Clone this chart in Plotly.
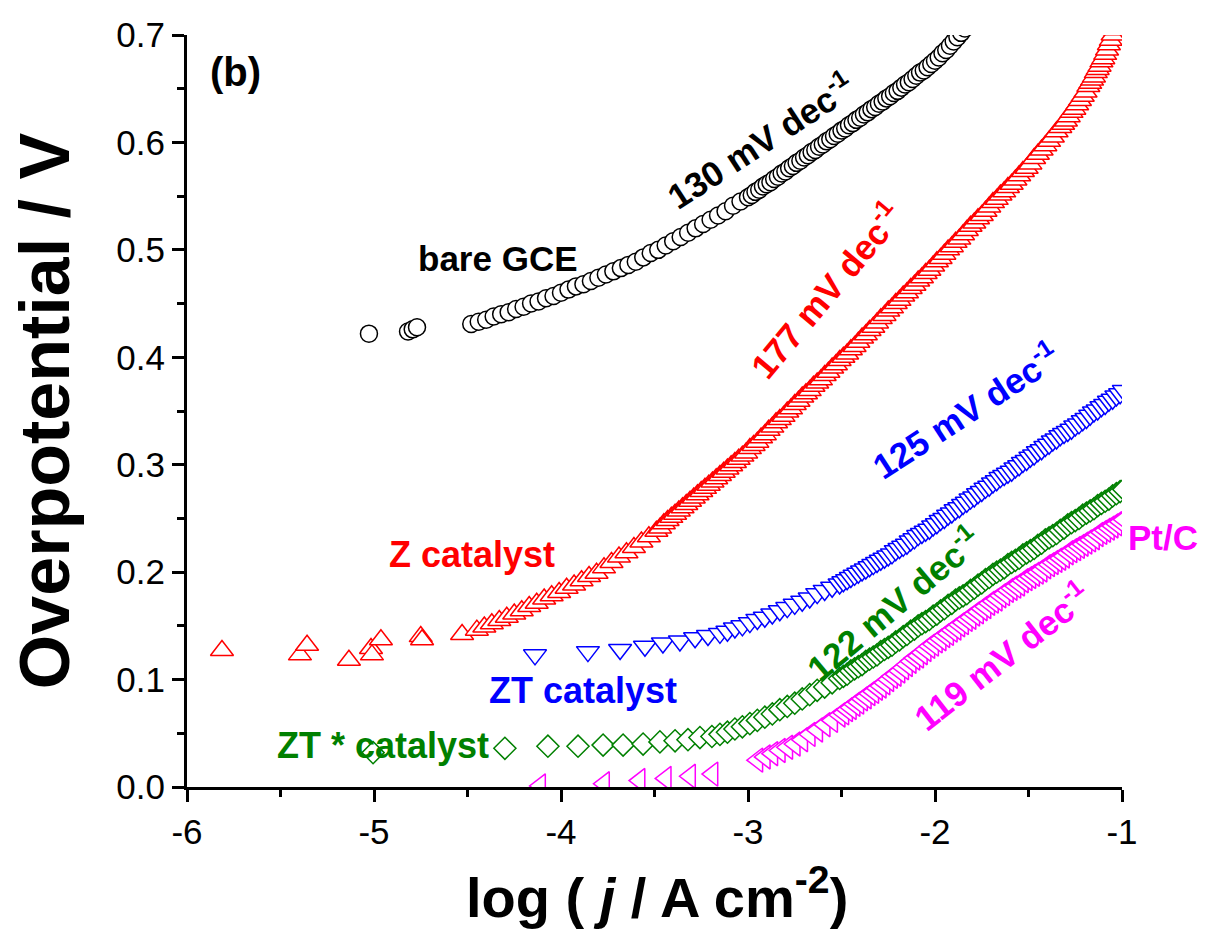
import plotly.graph_objects as go

# ---------------- data: (log j, overpotential) ----------------
bare_gce_pts = [
    (-5.027, 0.422), (-4.818, 0.424), (-4.793, 0.426), (-4.770, 0.428),
    (-4.48, 0.431), (-4.44, 0.433), (-4.40, 0.435), (-4.36, 0.438), (-4.32, 0.440),
    (-4.28, 0.442), (-4.24, 0.445), (-4.20, 0.447), (-4.16, 0.450), (-4.12, 0.452),
    (-4.08, 0.455), (-4.04, 0.457), (-4.00, 0.460), (-3.96, 0.463), (-3.92, 0.466),
    (-3.88, 0.468), (-3.84, 0.471), (-3.80, 0.474), (-3.76, 0.477), (-3.72, 0.480),
    (-3.68, 0.483), (-3.64, 0.486), (-3.60, 0.489), (-3.56, 0.493), (-3.52, 0.497),
    (-3.48, 0.500), (-3.44, 0.504), (-3.40, 0.508), (-3.36, 0.512), (-3.32, 0.516),
    (-3.28, 0.520), (-3.24, 0.524), (-3.20, 0.528), (-3.16, 0.532), (-3.12, 0.536),
    (-3.08, 0.541), (-3.04, 0.545),
    (-3.00, 0.549), (-2.98, 0.551), (-2.96, 0.554), (-2.94, 0.556), (-2.92, 0.559),
    (-2.90, 0.561), (-2.88, 0.563), (-2.86, 0.566), (-2.84, 0.568), (-2.82, 0.571),
    (-2.80, 0.573), (-2.78, 0.576), (-2.76, 0.578), (-2.74, 0.581), (-2.72, 0.583),
    (-2.70, 0.586), (-2.68, 0.588), (-2.66, 0.591), (-2.64, 0.593), (-2.62, 0.596),
    (-2.60, 0.598), (-2.58, 0.601), (-2.56, 0.603), (-2.54, 0.606), (-2.52, 0.608),
    (-2.50, 0.611), (-2.48, 0.613), (-2.46, 0.616), (-2.44, 0.618), (-2.42, 0.621),
    (-2.40, 0.623), (-2.38, 0.626), (-2.36, 0.628), (-2.34, 0.631), (-2.32, 0.633),
    (-2.30, 0.636), (-2.28, 0.638), (-2.26, 0.641), (-2.24, 0.643), (-2.22, 0.646),
    (-2.20, 0.648), (-2.18, 0.651), (-2.16, 0.654), (-2.14, 0.656), (-2.12, 0.659),
    (-2.10, 0.662), (-2.08, 0.665), (-2.06, 0.667), (-2.04, 0.670), (-2.02, 0.673),
    (-2.00, 0.676), (-1.98, 0.679), (-1.96, 0.683), (-1.94, 0.686), (-1.92, 0.690),
    (-1.90, 0.694), (-1.88, 0.698), (-1.86, 0.702), (-1.84, 0.706),
]

z_catalyst_pts = [
    (-5.813, 0.127), (-5.396, 0.123), (-5.358, 0.132), (-5.134, 0.118), (-5.016, 0.129),
    (-5.011, 0.123), (-4.963, 0.137), (-4.750, 0.140), (-4.743, 0.137), (-4.529, 0.142),
    (-4.45, 0.146), (-4.41, 0.149), (-4.37, 0.152), (-4.33, 0.155), (-4.29, 0.158),
    (-4.25, 0.161), (-4.21, 0.164), (-4.17, 0.168), (-4.13, 0.171), (-4.09, 0.175),
    (-4.05, 0.178), (-4.01, 0.181), (-3.97, 0.185), (-3.93, 0.188), (-3.89, 0.192),
    (-3.85, 0.196), (-3.81, 0.199), (-3.77, 0.204), (-3.73, 0.209), (-3.69, 0.214),
    (-3.65, 0.218), (-3.61, 0.223), (-3.57, 0.228), (-3.53, 0.233),
    (-3.49, 0.238), (-3.47, 0.241), (-3.45, 0.245), (-3.43, 0.248), (-3.41, 0.251),
    (-3.39, 0.254), (-3.37, 0.257), (-3.35, 0.260), (-3.33, 0.263), (-3.31, 0.266),
    (-3.29, 0.269), (-3.27, 0.272), (-3.25, 0.275), (-3.23, 0.278), (-3.21, 0.281),
    (-3.19, 0.284), (-3.17, 0.287), (-3.15, 0.290), (-3.13, 0.293), (-3.11, 0.296),
    (-3.09, 0.299), (-3.07, 0.302), (-3.05, 0.305), (-3.03, 0.308), (-3.01, 0.311),
    (-2.99, 0.315), (-2.97, 0.318), (-2.95, 0.321), (-2.93, 0.325), (-2.91, 0.328),
    (-2.89, 0.332), (-2.87, 0.335), (-2.85, 0.339), (-2.83, 0.342), (-2.81, 0.345),
    (-2.79, 0.349), (-2.77, 0.352), (-2.75, 0.356), (-2.73, 0.359), (-2.71, 0.363),
    (-2.69, 0.366), (-2.67, 0.369), (-2.65, 0.373), (-2.63, 0.376), (-2.61, 0.379),
    (-2.59, 0.383), (-2.57, 0.386), (-2.55, 0.390), (-2.53, 0.393), (-2.51, 0.397),
    (-2.49, 0.400), (-2.47, 0.403), (-2.45, 0.407), (-2.43, 0.410), (-2.41, 0.414),
    (-2.39, 0.418), (-2.37, 0.421), (-2.35, 0.425), (-2.33, 0.428), (-2.31, 0.432),
    (-2.29, 0.436), (-2.27, 0.439), (-2.25, 0.443), (-2.23, 0.446), (-2.21, 0.450),
    (-2.19, 0.453), (-2.17, 0.457), (-2.15, 0.460), (-2.13, 0.464), (-2.11, 0.467),
    (-2.09, 0.471), (-2.07, 0.474), (-2.05, 0.478), (-2.03, 0.481), (-2.01, 0.485),
    (-1.99, 0.489), (-1.97, 0.492), (-1.95, 0.496), (-1.93, 0.500), (-1.91, 0.503),
    (-1.89, 0.507), (-1.87, 0.510), (-1.85, 0.514), (-1.83, 0.518), (-1.81, 0.522),
    (-1.79, 0.525), (-1.77, 0.529), (-1.75, 0.532), (-1.73, 0.536), (-1.71, 0.540),
    (-1.69, 0.544), (-1.67, 0.547), (-1.65, 0.551), (-1.63, 0.554), (-1.61, 0.558),
    (-1.59, 0.561), (-1.57, 0.565), (-1.55, 0.569), (-1.53, 0.573), (-1.51, 0.576),
    (-1.49, 0.580), (-1.47, 0.585), (-1.45, 0.589), (-1.43, 0.593), (-1.41, 0.597),
    (-1.39, 0.601), (-1.37, 0.605), (-1.35, 0.610), (-1.33, 0.614), (-1.315, 0.617),
    (-1.30, 0.620), (-1.285, 0.624), (-1.27, 0.628), (-1.255, 0.631), (-1.24, 0.635),
    (-1.225, 0.639), (-1.21, 0.643), (-1.195, 0.647), (-1.18, 0.652), (-1.17, 0.655),
    (-1.16, 0.658), (-1.15, 0.661), (-1.14, 0.665), (-1.13, 0.668), (-1.12, 0.671),
    (-1.11, 0.675), (-1.10, 0.678), (-1.09, 0.682), (-1.08, 0.686), (-1.07, 0.691),
    (-1.06, 0.695), (-1.05, 0.700), (-1.04, 0.705),
]

zt_catalyst_pts = [
    (-4.139, 0.123), (-3.856, 0.126), (-3.684, 0.128), (-3.551, 0.131), (-3.455, 0.134),
    (-3.364, 0.136), (-3.283, 0.139), (-3.214, 0.141),
    (-3.15, 0.143), (-3.11, 0.145), (-3.07, 0.148), (-3.03, 0.150), (-2.99, 0.153),
    (-2.95, 0.156), (-2.91, 0.158), (-2.87, 0.161), (-2.83, 0.164), (-2.79, 0.167),
    (-2.75, 0.170), (-2.71, 0.173), (-2.67, 0.176), (-2.63, 0.180), (-2.59, 0.183),
    (-2.55, 0.186),
    (-2.51, 0.189), (-2.49, 0.191), (-2.47, 0.193), (-2.45, 0.195), (-2.43, 0.197),
    (-2.41, 0.199), (-2.39, 0.201), (-2.37, 0.203), (-2.35, 0.205), (-2.33, 0.207),
    (-2.31, 0.209), (-2.29, 0.211), (-2.27, 0.213), (-2.25, 0.215), (-2.23, 0.217),
    (-2.21, 0.220), (-2.19, 0.222), (-2.17, 0.224), (-2.15, 0.226), (-2.13, 0.229),
    (-2.11, 0.231), (-2.09, 0.234), (-2.07, 0.236), (-2.05, 0.238), (-2.03, 0.240),
    (-2.01, 0.243), (-1.99, 0.245), (-1.97, 0.248), (-1.95, 0.250), (-1.93, 0.253),
    (-1.91, 0.255), (-1.89, 0.258), (-1.87, 0.260), (-1.85, 0.263), (-1.83, 0.265),
    (-1.81, 0.268), (-1.79, 0.270), (-1.77, 0.273), (-1.75, 0.275), (-1.73, 0.278),
    (-1.71, 0.280), (-1.69, 0.283), (-1.67, 0.285), (-1.65, 0.288), (-1.63, 0.290),
    (-1.61, 0.292), (-1.59, 0.294), (-1.57, 0.297), (-1.55, 0.299), (-1.53, 0.302),
    (-1.51, 0.304), (-1.49, 0.307), (-1.47, 0.309), (-1.45, 0.312), (-1.43, 0.314),
    (-1.41, 0.317), (-1.39, 0.319), (-1.37, 0.322), (-1.35, 0.324), (-1.33, 0.327),
    (-1.31, 0.329), (-1.29, 0.331), (-1.27, 0.333), (-1.25, 0.336), (-1.23, 0.338),
    (-1.21, 0.341), (-1.19, 0.343), (-1.17, 0.346), (-1.15, 0.349), (-1.13, 0.351),
    (-1.11, 0.354), (-1.09, 0.356), (-1.07, 0.359), (-1.05, 0.361), (-1.03, 0.364),
    (-1.01, 0.366), (-0.99, 0.369),
]

zt_star_catalyst_pts = [
    (-5.005, 0.032), (-4.300, 0.036), (-4.070, 0.038), (-3.909, 0.038), (-3.775, 0.039),
    (-3.668, 0.039), (-3.561, 0.040), (-3.471, 0.042), (-3.390, 0.043), (-3.321, 0.044),
    (-3.257, 0.046), (-3.193, 0.047),
    (-3.15, 0.049), (-3.11, 0.051), (-3.07, 0.054), (-3.03, 0.056), (-2.99, 0.059),
    (-2.95, 0.062), (-2.91, 0.065), (-2.87, 0.068), (-2.83, 0.072), (-2.79, 0.075),
    (-2.75, 0.078), (-2.71, 0.082), (-2.67, 0.086), (-2.63, 0.090), (-2.59, 0.093),
    (-2.55, 0.097),
    (-2.51, 0.101), (-2.49, 0.103), (-2.47, 0.105), (-2.45, 0.108), (-2.43, 0.110),
    (-2.41, 0.112), (-2.39, 0.114), (-2.37, 0.117), (-2.35, 0.119), (-2.33, 0.121),
    (-2.31, 0.123), (-2.29, 0.126), (-2.27, 0.128), (-2.25, 0.130), (-2.23, 0.132),
    (-2.21, 0.135), (-2.19, 0.137), (-2.17, 0.140), (-2.15, 0.142), (-2.13, 0.145),
    (-2.11, 0.147), (-2.09, 0.150), (-2.07, 0.152), (-2.05, 0.154), (-2.03, 0.156),
    (-2.01, 0.159), (-1.99, 0.161), (-1.97, 0.164), (-1.95, 0.166), (-1.93, 0.169),
    (-1.91, 0.171), (-1.89, 0.174), (-1.87, 0.176), (-1.85, 0.178), (-1.83, 0.180),
    (-1.81, 0.183), (-1.79, 0.185), (-1.77, 0.188), (-1.75, 0.190), (-1.73, 0.193),
    (-1.71, 0.195), (-1.69, 0.198), (-1.67, 0.200), (-1.65, 0.202), (-1.63, 0.204),
    (-1.61, 0.207), (-1.59, 0.209), (-1.57, 0.211), (-1.55, 0.213), (-1.53, 0.216),
    (-1.51, 0.218), (-1.49, 0.220), (-1.47, 0.222), (-1.45, 0.225), (-1.43, 0.227),
    (-1.41, 0.230), (-1.39, 0.232), (-1.37, 0.234), (-1.35, 0.236), (-1.33, 0.239),
    (-1.31, 0.241), (-1.29, 0.244), (-1.27, 0.246), (-1.25, 0.248), (-1.23, 0.250),
    (-1.21, 0.253), (-1.19, 0.255), (-1.17, 0.257), (-1.15, 0.259), (-1.13, 0.262),
    (-1.11, 0.264), (-1.09, 0.266), (-1.07, 0.268), (-1.05, 0.271), (-1.03, 0.273),
    (-1.01, 0.275), (-0.99, 0.277),
]

pt_c_pts = [
    (-4.112, 0.001), (-3.770, 0.003), (-3.580, 0.006), (-3.440, 0.008), (-3.310, 0.010),
    (-3.190, 0.012),
    (-2.95, 0.025), (-2.91, 0.028), (-2.87, 0.031), (-2.83, 0.034), (-2.79, 0.037),
    (-2.75, 0.040), (-2.71, 0.044), (-2.67, 0.049), (-2.63, 0.053), (-2.59, 0.058),
    (-2.55, 0.062),
    (-2.51, 0.067), (-2.49, 0.069), (-2.47, 0.072), (-2.45, 0.074), (-2.43, 0.077),
    (-2.41, 0.079), (-2.39, 0.082), (-2.37, 0.084), (-2.35, 0.087), (-2.33, 0.089),
    (-2.31, 0.092), (-2.29, 0.094), (-2.27, 0.097), (-2.25, 0.100), (-2.23, 0.103),
    (-2.21, 0.105), (-2.19, 0.108), (-2.17, 0.111), (-2.15, 0.114), (-2.13, 0.117),
    (-2.11, 0.120), (-2.09, 0.122), (-2.07, 0.125), (-2.05, 0.128), (-2.03, 0.131),
    (-2.01, 0.133), (-1.99, 0.136), (-1.97, 0.138), (-1.95, 0.141), (-1.93, 0.143),
    (-1.91, 0.146), (-1.89, 0.148), (-1.87, 0.151), (-1.85, 0.153), (-1.83, 0.156),
    (-1.81, 0.158), (-1.79, 0.161), (-1.77, 0.163), (-1.75, 0.166), (-1.73, 0.168),
    (-1.71, 0.171), (-1.69, 0.173), (-1.67, 0.175), (-1.65, 0.178), (-1.63, 0.180),
    (-1.61, 0.183), (-1.59, 0.185), (-1.57, 0.187), (-1.55, 0.189), (-1.53, 0.192),
    (-1.51, 0.194), (-1.49, 0.196), (-1.47, 0.198), (-1.45, 0.200), (-1.43, 0.202),
    (-1.41, 0.205), (-1.39, 0.207), (-1.37, 0.209), (-1.35, 0.211), (-1.33, 0.213),
    (-1.31, 0.215), (-1.29, 0.218), (-1.27, 0.220), (-1.25, 0.222), (-1.23, 0.224),
    (-1.21, 0.226), (-1.19, 0.228), (-1.17, 0.230), (-1.15, 0.232), (-1.13, 0.235),
    (-1.11, 0.237), (-1.09, 0.239), (-1.07, 0.241), (-1.05, 0.243), (-1.03, 0.245),
    (-1.01, 0.247), (-0.99, 0.249),
]

x_ticks = [-6, -5, -4, -3, -2, -1]
x_minor = [-5.5, -4.5, -3.5, -2.5, -1.5]
y_ticks = [0.0, 0.1, 0.2, 0.3, 0.4, 0.5, 0.6, 0.7]
y_minor = [0.05, 0.15, 0.25, 0.35, 0.45, 0.55, 0.65]
y_tick_labels = ["0.0", "0.1", "0.2", "0.3", "0.4", "0.5", "0.6", "0.7"]

# ---------------- figure ----------------
FONT = "Liberation Sans, Arial, sans-serif"

series = [
    (bare_gce_pts, "circle", 17, "black", "bare GCE"),
    (z_catalyst_pts, "triangle-up", 20, "red", "Z catalyst"),
    (zt_catalyst_pts, "triangle-down", 20, "blue", "ZT catalyst"),
    (zt_star_catalyst_pts, "diamond", 17, "green", "ZT * catalyst"),
    (pt_c_pts, "triangle-left", 21, "magenta", "Pt/C"),
]

fig = go.Figure()
for pts, sym, size, col, name in series:
    fig.add_trace(go.Scatter(
        x=[p[0] for p in pts], y=[p[1] for p in pts], mode="markers", name=name,
        marker=dict(symbol=sym, size=size, color="white",
                    line=dict(color=col, width=1.5)),
        cliponaxis=True,
    ))

# in-plot labels (data coordinates)
annotations = [
    ("<b>(b)</b>", -5.743, 0.666, 0, "black", 40),
    ("<b>bare GCE</b>", -4.337, 0.492, 0, "black", 35),
    ("<b>130 mV dec<sup>-1</sup></b>", -2.936, 0.602, -33, "black", 35),
    ("<b>177 mV dec<sup>-1</sup></b>", -2.588, 0.463, -50, "red", 35),
    ("<b>125 mV dec<sup>-1</sup></b>", -1.840, 0.351, -33, "blue", 35),
    ("<b>122 mV dec<sup>-1</sup></b>", -2.225, 0.171, -40, "green", 35),
    ("<b>119 mV dec<sup>-1</sup></b>", -1.642, 0.123, -38, "magenta", 35),
    ("<b>Z catalyst</b>", -4.476, 0.216, 0, "red", 36),
    ("<b>ZT catalyst</b>", -3.882, 0.090, 0, "blue", 36),
    ("<b>ZT * catalyst</b>", -4.952, 0.039, 0, "green", 36),
]
for text, ax, ay, ang, col, fs in annotations:
    fig.add_annotation(x=ax, y=ay, xref="x", yref="y", text=text, showarrow=False,
                       textangle=ang, xanchor="center", yanchor="middle",
                       font=dict(family=FONT, size=fs, color=col))

# label just outside the right edge of the plot (paper coordinates)
fig.add_annotation(x=1.0439, y=0.332, xref="paper", yref="paper", text="<b>Pt/C</b>",
                   showarrow=False, xanchor="center", yanchor="middle",
                   font=dict(family=FONT, size=35, color="magenta"))

# axis titles
fig.add_annotation(x=0.5027, y=-0.141, xref="paper", yref="paper",
                   text="<b>log ( <i>j</i> / A cm<sup>-2</sup>)</b>", showarrow=False,
                   xanchor="center", yanchor="middle",
                   font=dict(family=FONT, size=56, color="black"))
fig.add_annotation(x=-0.152, y=0.501, xref="paper", yref="paper",
                   text="<b>Overpotential / V</b>", showarrow=False, textangle=-90,
                   xanchor="center", yanchor="middle",
                   font=dict(family=FONT, size=70, color="black"))

axis_common = dict(showgrid=False, zeroline=False, showline=True, linecolor="black",
                   linewidth=3, ticks="outside", ticklen=12, tickwidth=3,
                   tickcolor="black", mirror=False,
                   tickfont=dict(family=FONT, size=35, color="black"))
fig.update_xaxes(range=[-6, -1], tickvals=x_ticks, ticktext=[str(v) for v in x_ticks],
                 minor=dict(tickvals=x_minor, ticklen=7, tickwidth=3,
                            ticks="outside", tickcolor="black"),
                 **axis_common)
fig.update_yaxes(range=[0, 0.7], tickvals=y_ticks, ticktext=y_tick_labels,
                 minor=dict(tickvals=y_minor, ticklen=7, tickwidth=3,
                            ticks="outside", tickcolor="black"),
                 **axis_common)

fig.update_layout(width=1216, height=939, showlegend=False,
                  margin=dict(l=187, r=94, t=35, b=152),
                  plot_bgcolor="white", paper_bgcolor="white")

fig.write_html("out.html")
